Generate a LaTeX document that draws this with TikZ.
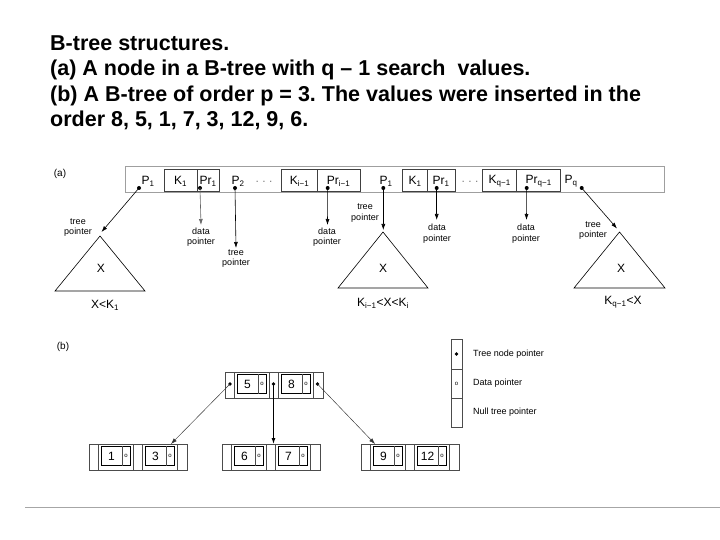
\documentclass[tikz,border=0pt]{standalone}
\usepackage{fontspec}
\setmainfont{Liberation Sans}
\usetikzlibrary{arrows.meta}
\frenchspacing
\tikzset{
  title/.style={anchor=base west, inner sep=0, font=\fontsize{21.5}{24}\selectfont\bfseries},
  lbl/.style={inner sep=0, font=\fontsize{12}{14}\selectfont},
  small/.style={inner sep=0, align=center, font=\fontsize{9}{10.5}\selectfont},
  barline/.style={draw=gray!75, line width=1pt},
  inbox/.style={draw=black!75, line width=0.6pt},
  cellline/.style={draw=black!70, line width=0.6pt},
  keybox/.style={draw=black, line width=0.9pt},
  keytext/.style={inner sep=0, font=\fontsize{12}{14}\selectfont},
  otext/.style={inner sep=0, font=\fontsize{6}{7}\selectfont},
  ptr/.style={-{Latex[length=6pt,width=4pt]}, line width=0.6pt},
  ptrb/.style={-{Latex[length=6pt,width=4pt]}, line width=0.45pt, draw=black!80},
  ptrbold/.style={-{Latex[length=6pt,width=4pt]}, line width=1pt},
  tri/.style={draw=black, line width=0.6pt},
}
\newcommand\BTnode[5]{%
  \draw[cellline] (#2,#3) rectangle ++(98,26);
  \foreach \dx in {9,44,53,88} {\draw[cellline] ({#2+\dx},#3) -- ++(0,26);}
  \draw[keybox] ({#2+12},{#3+2}) rectangle ++(29,19.5);
  \draw[cellline] ({#2+33},{#3+2}) -- ++(0,19.5);
  \draw[keybox] ({#2+56},{#3+2}) rectangle ++(29,19.5);
  \draw[cellline] ({#2+77},{#3+2}) -- ++(0,19.5);
  \node[keytext] (#1-ka) at ({#2+22.5},{#3+12}) {#4};
  \node[otext] (#1-da) at ({#2+37},{#3+12}) {o};
  \node[keytext] (#1-kb) at ({#2+66.5},{#3+12}) {#5};
  \node[otext] (#1-db) at ({#2+81},{#3+12}) {o};
}
\begin{document}
\begin{tikzpicture}[x=1pt,y=-1pt]
\useasboundingbox (0,0) rectangle (720,540);
% title
\node[title] (t1) at (50,51) {B-tree structures.};
\node[title] (t2) at (50,76) {(a) A node in a B-tree with q – 1 search\ \ values.};
\node[title] (t3) at (50,102) {(b) A B-tree of order p = 3. The values were inserted in the};
\node[title] (t4) at (50,127) {order 8, 5, 1, 7, 3, 12, 9, 6.};

% (a)
\node[small, font=\fontsize{10}{12}\selectfont] (la) at (60,174) {(a)};
\draw[barline] (125,167) rectangle (664,193);
\draw[inbox] (164.3,169.5) rectangle (219,191.5); \draw[inbox] (197,169.5) -- (197,191.5);
\draw[inbox] (281.7,169.5) rectangle (360,191.5); \draw[inbox] (317.3,169.5) -- (317.3,191.5);
\draw[inbox] (402.7,169.5) rectangle (455,191.5); \draw[inbox] (427.3,169.5) -- (427.3,191.5);
\draw[inbox] (482.7,169.5) rectangle (560.7,191.5); \draw[inbox] (516.7,169.5) -- (516.7,191.5);

\node[lbl] (p1) at (148,181) {P\textsubscript{1}};
\node[lbl] (k1) at (180.6,181) {K\textsubscript{1}};
\node[lbl] (pr1) at (208,181) {Pr\textsubscript{1}};
\node[lbl] (p2) at (238,181) {P\textsubscript{2}};
\node[lbl, text=gray] (d1) at (264,182) {. . .};
\node[lbl] (ki) at (299.5,181) {K\textsubscript{i−1}};
\node[lbl] (pri) at (338.6,181) {Pr\textsubscript{i−1}};
\node[lbl] (pi) at (386,181) {P\textsubscript{1}};
\node[lbl] (ki2) at (415,181) {K\textsubscript{1}};
\node[lbl] (pri2) at (441,181) {Pr\textsubscript{1}};
\node[lbl, text=gray] (d2) at (470,182) {. . .};
\node[lbl] (kq) at (499.7,181) {K\textsubscript{q−1}};
\node[lbl] (prq) at (538.7,181) {Pr\textsubscript{q−1}};
\node[lbl] (pq) at (571,181) {P\textsubscript{q}};

\coordinate (dp1) at (139,188);
\coordinate (dpr1) at (200,188);
\coordinate (dp2) at (235,188);
\coordinate (dpri) at (327.7,188);
\coordinate (dpi) at (383.3,188);
\coordinate (dpri2) at (436.7,188);
\coordinate (dprq) at (526.7,188);
\coordinate (dpq) at (581.7,188);
\foreach \c in {dp1,dpr1,dp2,dpri,dpi,dpri2,dprq,dpq} {\fill (\c) circle (2pt);}

% triangles
\coordinate (a1) at (100,236);
\coordinate (a2) at (383,232);
\coordinate (a3) at (619.5,232);
\draw[tri] (a1) -- (55,291) -- (145,291) -- cycle;
\draw[tri] (a2) -- (338,288) -- (428,288) -- cycle;
\draw[tri] (a3) -- (574,288) -- (665,288) -- cycle;
\node[lbl] (x1) at (101,268) {X};
\node[lbl] (x2) at (383,268) {X};
\node[lbl] (x3) at (621,268) {X};
\node[lbl] (c1) at (105,305) {X<K\textsubscript{1}};
\node[lbl] (c2) at (383,303) {K\textsubscript{i−1}<X<K\textsubscript{i}};
\node[lbl] (c3) at (623,302) {K\textsubscript{q−1}<X};

% pointer labels
\coordinate (e1) at (101.5,232);
\coordinate (e2) at (201,225);
\coordinate (e3) at (236,248);
\coordinate (e4) at (327.5,225);
\coordinate (e5) at (383.3,230);
\coordinate (e6) at (436.7,220);
\coordinate (e7) at (526.5,220);
\coordinate (e8) at (617,228.5);
\draw[ptr] (dp1) -- (e1);
\draw[ptr, draw=gray!80!black] (dpr1) -- (e2);
\draw[ptr] (dp2) -- (e3);
\draw[ptr] (dpri) -- (e4);
\draw[ptr] (dpi) -- (e5);
\draw[ptr] (dpri2) -- (e6);
\draw[ptr] (dprq) -- (e7);
\draw[ptr] (dpq) -- (e8);
\node[small] (l1) at (78,227.5) {tree\\pointer};
\node[small] (l2) at (201,237) {data\\pointer};
\node[small] (l3) at (236,258.5) {tree\\pointer};
\node[small] (l4) at (327,237) {data\\pointer};
\node[small] (l5) at (365,213) {tree\\pointer};
\node[small] (l6) at (437,233.5) {data\\pointer};
\node[small] (l7) at (526,233.5) {data\\pointer};
\node[small] (l8) at (593,230.5) {tree\\pointer};

% (b)
\node[small, font=\fontsize{10}{12}\selectfont] (lb) at (63,347) {(b)};
\BTnode{root}{225}{372}{5}{8}
\BTnode{lfa}{89}{444}{1}{3}
\BTnode{lfb}{222}{444}{6}{7}
\BTnode{lfc}{361}{444}{9}{12}
\coordinate (rl) at (230,384);
\coordinate (rm) at (273.5,384);
\coordinate (rr) at (317.5,384);
\foreach \c in {rl,rm,rr} {\fill (\c) circle (1.8pt);}
\coordinate (ta) at (171,444);
\coordinate (tb) at (273.5,444);
\coordinate (tc) at (375,444);
\draw[ptrb] (rl) -- (ta);
\draw[ptrbold] (rm) -- (tb);
\draw[ptrb] (rr) -- (tc);

% legend
\draw[cellline] (451,339) rectangle (462,369);
\draw[cellline] (451,369) rectangle (462,398);
\draw[cellline] (451,398) rectangle (462,427);
\coordinate (lgd) at (456.5,354);
\fill (lgd) circle (1.8pt);
\node[otext] (lgo) at (456.5,383.5) {o};
\node[small, anchor=west] (lg1) at (473,354) {Tree node pointer};
\node[small, anchor=west] (lg2) at (473,383) {Data pointer};
\node[small, anchor=west] (lg3) at (473,412) {Null tree pointer};

% bottom rule
\draw[draw=gray!70, line width=0.8pt] (25,507) -- (720,507);
\end{tikzpicture}
\end{document}
